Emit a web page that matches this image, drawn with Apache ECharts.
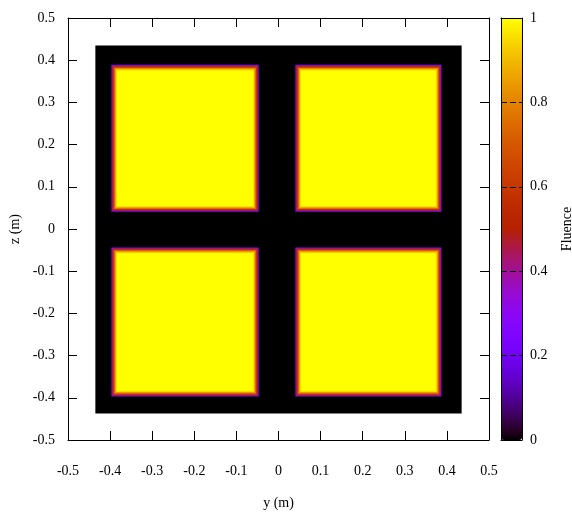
<!DOCTYPE html>
<html>
<head>
<meta charset="utf-8">
<script src="https://cdn.jsdelivr.net/npm/echarts@6/dist/echarts.min.js"></script>
<style>html,body{margin:0;padding:0;background:#fff}#c{width:572px;height:512px}</style>
</head>
<body>
<div id="c"></div>
<script>
// ---- data ----
const axisTicks = [-0.5, -0.4, -0.3, -0.2, -0.1, 0, 0.1, 0.2, 0.3, 0.4, 0.5];
const colorbarTicks = [0, 0.2, 0.4, 0.6, 0.8, 1];
// dark (zero-fluence) backing square: [yMin, zMin, yMax, zMax]
const backgroundSquare = [-0.435, -0.437, 0.435, 0.435];
const backgroundFluence = 0;
// four open fields: [yMin, zMin, yMax, zMax]
const fieldSquares = [
  [-0.397, 0.041, -0.047, 0.389],
  [0.040, 0.041, 0.387, 0.389],
  [-0.397, -0.397, -0.047, -0.044],
  [0.040, -0.397, 0.387, -0.044]
];
// penumbra: inset from the field edge (m) and fluence level inside it
const edgeInset   = [0.0, 0.0022, 0.0044, 0.0066, 0.0088, 0.0110, 0.0132];
const edgeFluence = [0.28, 0.47, 0.62, 0.76, 0.87, 0.95, 1.0];

// ---- build rectangles (data) ----
const rects = [];
rects.push([backgroundSquare[0], backgroundSquare[1], backgroundSquare[2], backgroundSquare[3], backgroundFluence]);
fieldSquares.forEach(function (s) {
  edgeInset.forEach(function (d, k) {
    rects.push([s[0] + d, s[1] + d, s[2] - d, s[3] - d, edgeFluence[k]]);
  });
});

// gnuplot default pm3d palette (rgbformulae 7,5,15) as colour stops
function gp(x) {
  const r = Math.sqrt(x), g = Math.pow(x, 3), b = Math.max(0, Math.sin(2 * Math.PI * x));
  const h = function (v) { v = Math.round(Math.min(1, Math.max(0, v)) * 255); return (v < 16 ? '0' : '') + v.toString(16); };
  return '#' + h(r) + h(g) + h(b);
}
const palette = [];
for (let i = 0; i <= 60; i++) palette.push(gp(i / 60));

const font = 'Liberation Serif';
const txt = { fontFamily: font, fontSize: 14, color: '#000' };
const line = { show: true, onZero: false, lineStyle: { color: '#000', width: 1 } };
const fmt = function (v) { return +v.toFixed(1) + ''; };

const chart = echarts.init(document.getElementById('c'), null, { renderer: 'canvas' });
chart.setOption({
  animation: false,
  backgroundColor: '#fff',
  grid: [
    { left: 68, top: 18, width: 421, height: 422, show: false, containLabel: false, outerBoundsMode: 'none' },
    { left: 501, top: 18, width: 21, height: 422, show: false, containLabel: false, outerBoundsMode: 'none' }
  ],
  xAxis: [
    { type: 'value', gridIndex: 0, position: 'bottom', min: axisTicks[0], max: axisTicks[axisTicks.length - 1], interval: 0.1,
      axisLine: line, axisTick: { inside: true, length: 9, lineStyle: { color: '#000' } },
      axisLabel: Object.assign({ margin: 24, formatter: fmt }, txt),
      splitLine: { show: false },
      name: 'y (m)', nameLocation: 'middle', nameGap: 56, nameTextStyle: txt },
    { type: 'value', gridIndex: 0, position: 'top', min: -0.5, max: 0.5, interval: 0.1,
      axisLine: line, axisTick: { inside: true, length: 9, lineStyle: { color: '#000' } },
      axisLabel: { show: false }, splitLine: { show: false } },
    { type: 'value', gridIndex: 1, position: 'bottom', min: 0, max: 1, axisLine: line, axisTick: { show: false }, axisLabel: { show: false }, splitLine: { show: false }, z: 10 },
    { type: 'value', gridIndex: 1, position: 'top', min: 0, max: 1, axisLine: line, axisTick: { show: false }, axisLabel: { show: false }, splitLine: { show: false }, z: 10 }
  ],
  yAxis: [
    { type: 'value', gridIndex: 0, position: 'left', min: axisTicks[0], max: axisTicks[axisTicks.length - 1], interval: 0.1,
      axisLine: line, axisTick: { inside: true, length: 9, lineStyle: { color: '#000' } },
      axisLabel: Object.assign({ margin: 13, formatter: fmt }, txt),
      splitLine: { show: false },
      name: 'z (m)', nameLocation: 'middle', nameGap: 43, nameRotate: 90, nameTextStyle: txt },
    { type: 'value', gridIndex: 0, position: 'right', min: -0.5, max: 0.5, interval: 0.1,
      axisLine: line, axisTick: { inside: true, length: 9, lineStyle: { color: '#000' } },
      axisLabel: { show: false }, splitLine: { show: false } },
    { type: 'value', gridIndex: 1, position: 'right', min: colorbarTicks[0], max: colorbarTicks[colorbarTicks.length - 1], interval: 0.2,
      axisLine: line, axisTick: { show: false },
      axisLabel: Object.assign({ margin: 8, formatter: fmt }, txt),
      splitLine: { show: true, lineStyle: { color: '#000', type: [6, 3], width: 1 } },
      name: 'Fluence', nameLocation: 'middle', nameGap: 38, nameRotate: 90, nameTextStyle: txt, z: 10 },
    { type: 'value', gridIndex: 1, position: 'left', min: 0, max: 1, axisLine: line, axisTick: { show: false }, axisLabel: { show: false }, splitLine: { show: false }, z: 10 }
  ],
  visualMap: {
    type: 'continuous', show: true, min: 0, max: 1, dimension: 4, seriesIndex: 0, z: 1,
    calculable: false, itemWidth: 21, itemHeight: 422, left: 501, top: 18, padding: 0,
    text: null, showLabel: false, inRange: { color: palette }, hoverLink: false
  },
  series: [{
    type: 'custom', xAxisIndex: 0, yAxisIndex: 0,
    data: rects,
    renderItem: function (params, api) {
      const a = api.coord([api.value(0), api.value(3)]);
      const b = api.coord([api.value(2), api.value(1)]);
      return { type: 'rect', shape: { x: a[0], y: a[1], width: b[0] - a[0], height: b[1] - a[1] },
               style: { fill: api.visual('color') } };
    }
  }]
});
</script>
</body>
</html>
